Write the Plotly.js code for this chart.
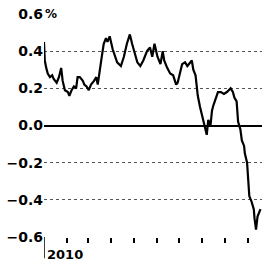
<!DOCTYPE html>
<html>
<head>
<meta charset="utf-8">
<script src="https://cdn.plot.ly/plotly-3.0.1.min.js"></script>
<style>html,body{margin:0;padding:0;background:#fff;}#chart{width:262px;height:264px;}</style>
</head>
<body>
<div id="chart"></div>
<script>
var dates = ["2010-01-01","2010-01-02","2010-01-04","2010-01-06","2010-01-09","2010-01-12","2010-01-14","2010-01-18","2010-01-21","2010-01-24","2010-01-26","2010-01-29",
"2010-02-02","2010-02-04","2010-02-07","2010-02-10","2010-02-13","2010-02-15","2010-02-18","2010-02-22","2010-02-24","2010-02-27",
"2010-03-02","2010-03-05","2010-03-09","2010-03-12","2010-03-14","2010-03-17","2010-03-19","2010-03-22","2010-03-25","2010-03-27","2010-03-30",
"2010-04-03","2010-04-06","2010-04-09","2010-04-14","2010-04-18","2010-04-22","2010-04-26","2010-04-29",
"2010-05-03","2010-05-06","2010-05-10","2010-05-14","2010-05-19","2010-05-23","2010-05-26","2010-05-29",
"2010-06-02","2010-06-06","2010-06-09","2010-06-11","2010-06-15","2010-06-19","2010-06-23","2010-06-27","2010-06-29",
"2010-07-03","2010-07-05","2010-07-09","2010-07-12","2010-07-18","2010-07-20","2010-07-23","2010-07-26","2010-07-29",
"2010-08-01","2010-08-04","2010-08-07","2010-08-09","2010-08-12","2010-08-14","2010-08-16","2010-08-19","2010-08-22","2010-08-26","2010-08-30",
"2010-09-03","2010-09-08","2010-09-11","2010-09-13","2010-09-16","2010-09-18","2010-09-21","2010-09-23","2010-09-26","2010-09-27","2010-09-30",
"2010-10-01","2010-10-02","2010-10-03","2010-10-06","2010-10-09","2010-10-10","2010-10-12","2010-10-14","2010-10-18"];
var values = [0.45,0.35,0.31,0.28,0.26,0.27,0.25,0.23,0.26,0.31,0.24,0.19,
0.18,0.16,0.19,0.21,0.20,0.26,0.26,0.24,0.22,0.21,
0.19,0.22,0.24,0.26,0.22,0.29,0.36,0.44,0.47,0.45,0.48,
0.41,0.37,0.34,0.32,0.37,0.44,0.49,0.44,
0.38,0.34,0.32,0.35,0.40,0.42,0.37,0.44,
0.37,0.33,0.40,0.35,0.31,0.28,0.27,0.22,0.23,
0.29,0.33,0.34,0.32,0.35,0.30,0.27,0.16,0.10,
0.04,0.00,-0.05,0.03,0.00,0.08,0.11,0.14,0.18,0.18,0.17,
0.18,0.20,0.18,0.15,0.13,0.02,-0.02,-0.08,-0.11,-0.15,-0.20,
-0.27,-0.34,-0.38,-0.41,-0.45,-0.50,-0.56,-0.49,-0.45];
var yTicks = [-0.6,-0.4,-0.2,0.0,0.2,0.4,0.6];
var yTickText = ["\u22120.6","\u22120.4","\u22120.2","0.0","0.2","0.4","0.6"];
var monthTicks = ["2010-02-01","2010-03-01","2010-04-01","2010-05-01","2010-06-01","2010-07-01","2010-08-01","2010-09-01","2010-10-01"];
var yearLabel = "2010";
var yearStart = "2010-01-01";

var font = {family: "DejaVu Sans", size: 14, color: "#000", weight: 700};
var trace = {x: dates, y: values, type: "scatter", mode: "lines",
  line: {color: "#000", width: 2.2}, hoverinfo: "skip"};
var layout = {
  width: 262, height: 264,
  margin: {l: 44, r: 0, t: 14, b: 27},
  paper_bgcolor: "#fff", plot_bgcolor: "#fff",
  showlegend: false,
  xaxis: {type: "date", range: ["2010-01-01", "2010-10-20"], showgrid: false, zeroline: false,
    showline: false, tickvals: monthTicks, showticklabels: false, ticks: "outside",
    ticklen: 5, tickwidth: 2, tickcolor: "#000"},
  yaxis: {range: [-0.6, 0.6], tickvals: yTicks, ticktext: yTickText, tickfont: font,
    showgrid: true, gridcolor: "#555", griddash: "dot", gridwidth: 1,
    zeroline: true, zerolinecolor: "#000", zerolinewidth: 2, showline: false, ticks: ""},
  shapes: [{type: "line", xref: "x", yref: "paper", x0: yearStart, x1: yearStart, y0: 0, y1: -0.095,
    line: {color: "#000", width: 1.5}}],
  annotations: [
    {xref: "x", yref: "paper", x: yearStart, y: -0.035, xanchor: "left", yanchor: "top", xshift: 1,
     text: yearLabel, showarrow: false, font: {family: "DejaVu Sans", size: 13, color: "#000", weight: 700}},
    {xref: "paper", yref: "y", x: 0, y: 0.6, xanchor: "left", yanchor: "middle", xshift: -1,
     text: "%", showarrow: false, font: {family: "DejaVu Sans", size: 12, color: "#000", weight: 700}}
  ]
};
Plotly.newPlot("chart", [trace], layout, {staticPlot: true, displayModeBar: false});
</script>
</body>
</html>
